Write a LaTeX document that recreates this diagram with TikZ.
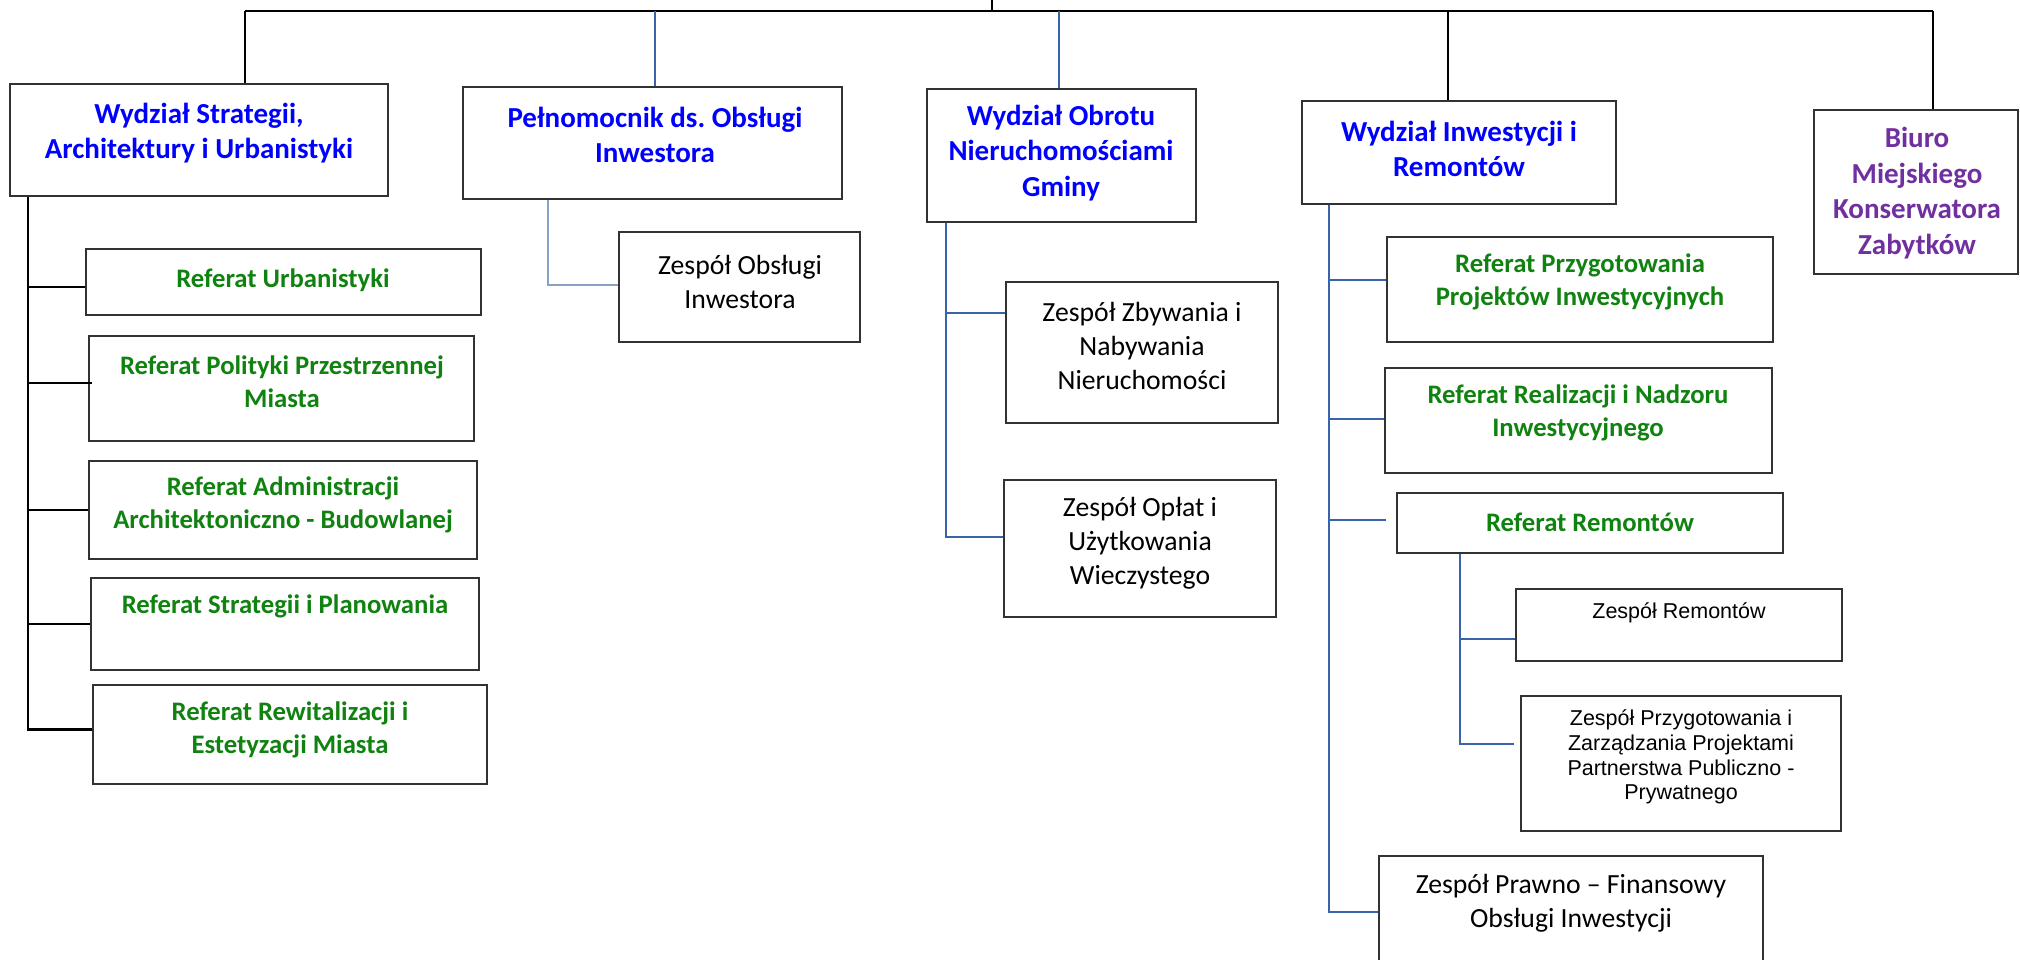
\documentclass[tikz,border=0pt]{standalone}
\usepackage{fontspec}
\setmainfont{Carlito}
\newfontfamily\arialf{Liberation Sans}
\frenchspacing
\definecolor{hblue}{RGB}{0,0,255}
\definecolor{hgreen}{RGB}{16,130,16}
\definecolor{hpurple}{RGB}{112,48,160}
\definecolor{cblue}{RGB}{58,100,170}
\definecolor{clight}{RGB}{135,162,200}
\definecolor{bgray}{RGB}{50,50,50}
\newcommand\mkbox[5]{\node[bx, minimum width={#4-#2}, minimum height={#5-#3}] (#1) at ({(#2+#4)/2},{(#3+#5)/2}) {};}
\begin{document}
\begin{tikzpicture}[x=1pt,y=-1pt,
  bx/.style={draw=bgray, line width=1.6pt, inner sep=0pt, rectangle},
  hdr/.style={align=center, inner sep=0pt, font=\fontsize{29}{35.5}\selectfont\bfseries},
  grn/.style={align=center, inner sep=0pt, text=hgreen, font=\fontsize{26.7}{33}\selectfont\bfseries},
  zsp/.style={align=center, inner sep=0pt, font=\fontsize{27.7}{34}\selectfont},
  ari/.style={align=center, inner sep=0pt, font=\arialf\fontsize{21.5}{24.8}\selectfont},
  blk/.style={draw=black, line width=2.2pt},
  blu/.style={draw=cblue, line width=2pt},
  lbl/.style={draw=clight, line width=1.6pt}]
\fill[white] (0,0) rectangle (2020,959);
\useasboundingbox (0,0) rectangle (2020,959);

% boxes
\mkbox{B1}{10}{84}{388}{196}
\mkbox{B2}{463}{87}{842}{199}
\mkbox{B3}{927}{89}{1196}{222}
\mkbox{B4}{1302}{101}{1616}{204}
\mkbox{B5}{1814}{110}{2018}{274}
\mkbox{R1}{86}{249}{481}{315}
\mkbox{R2}{89}{336}{474}{441}
\mkbox{R3}{89}{461}{477}{559}
\mkbox{R4}{91}{578}{479}{670}
\mkbox{R5}{93}{685}{487}{784}
\mkbox{Z1}{619}{232}{860}{342}
\mkbox{Z2}{1006}{282}{1278}{423}
\mkbox{Z3}{1004}{480}{1276}{617}
\mkbox{R6}{1387}{237}{1773}{342}
\mkbox{R7}{1385}{368}{1772}{473}
\mkbox{R8}{1397}{493}{1783}{553}
\mkbox{Z4}{1516}{589}{1842}{661}
\mkbox{Z5}{1521}{696}{1841}{831}
\mkbox{Z6}{1379}{856}{1763}{968}

% texts
\node[hdr, text=hblue] (tB1) at (199,133) {Wydział Strategii,\\Architektury i Urbanistyki};
\node[hdr, text=hblue] (tB2) at (655,135) {Pełnomocnik ds. Obsługi\\Inwestora};
\node[hdr, text=hblue] (tB3) at (1061,153) {Wydział Obrotu\\Nieruchomościami\\Gminy};
\node[hdr, text=hblue] (tB4) at (1459,149) {Wydział Inwestycji i\\Remontów};
\node[hdr, text=hpurple] (tB5) at (1917,193) {Biuro\\Miejskiego\\Konserwatora\\Zabytków};
\node[grn] (tR1) at (283,280) {Referat Urbanistyki};
\node[grn] (tR2) at (282,382) {Referat Polityki Przestrzennej\\Miasta};
\node[grn] (tR3) at (283,505) {Referat Administracji\\Architektoniczno - Budowlanej};
\node[grn] (tR4) at (285,606) {Referat Strategii i Planowania};
\node[grn] (tR5) at (290,730) {Referat Rewitalizacji i\\Estetyzacji Miasta};
\node[grn] (tR6) at (1580,282) {Referat Przygotowania\\Projektów Inwestycyjnych};
\node[grn] (tR7) at (1578,413) {Referat Realizacji i Nadzoru\\Inwestycyjnego};
\node[grn] (tR8) at (1590,522) {Referat Remontów};
\node[zsp] (tZ1) at (740,282) {Zespół Obsługi\\Inwestora};
\node[zsp] (tZ2) at (1142,346) {Zespół Zbywania i\\Nabywania\\Nieruchomości};
\node[zsp] (tZ3) at (1140,543) {Zespół Opłat i\\Użytkowania\\Wieczystego};
\node[ari] (tZ4) at (1679,613) {Zespół Remontów};
\node[ari] (tZ5) at (1681,757) {Zespół Przygotowania i\\Zarządzania Projektami\\Partnerstwa Publiczno -\\Prywatnego};
\node[zsp] (tZ6) at (1571,903) {Zespół Prawno – Finansowy\\Obsługi Inwestycji};

% top bus
\coordinate (root) at (992,0);
\coordinate (tL) at (245,11);
\coordinate (tR) at (1933,11);
\coordinate (tP) at (655,11);
\coordinate (tO) at (1059,11);
\coordinate (tI) at (1448,11);
\draw[blk, line width=2pt] (tL) -- (tR);
\draw[blk, line width=2pt] (root) -- (root |- tL);
\draw[blk] (tL) -- (tL |- B1.north);
\draw[blk] (tI) -- (tI |- B4.north);
\draw[blk] (tR) -- (tR |- B5.north);
\draw[blu] (tP) -- (tP |- B2.north);
\draw[blu] (tO) -- (tO |- B3.north);

% left column
\coordinate (Lx) at (28,0);
\coordinate (R5c) at ([yshift=5pt]R5.west);
\draw[blk] (Lx |- B1.south) -- (Lx |- R5c) -- (R5c);
\draw[blk] ([yshift=-5pt]Lx |- R1.west) -- ([yshift=-5pt]R1.west);
\draw[blk] ([yshift=5.5pt]Lx |- R2.west) -- ([xshift=4pt,yshift=5.5pt]R2.west);
\draw[blk] (Lx |- R3.west) -- (R3.west);
\draw[blk] (Lx |- R4.west) -- (R4.west);

% Pelnomocnik child
\coordinate (Px) at (548,0);
\draw[lbl] (Px |- B2.south) -- ([yshift=2pt]Px |- Z1.west) -- ([yshift=2pt]Z1.west);

% Obrot children
\coordinate (Ox) at (946,0);
\draw[blu] (Ox |- B3.south) -- ([yshift=12pt]Ox |- Z3.west) -- ([yshift=12pt]Z3.west);
\draw[blu] ([yshift=40pt]Ox |- Z2.west) -- ([yshift=40pt]Z2.west);

% Inwestycje children
\coordinate (Ix) at (1329,0);
\draw[blu] (Ix |- B4.south) -- (Ix |- Z6.west) -- (Z6.west);
\draw[blu] ([yshift=10pt]Ix |- R6.west) -- ([yshift=10pt]R6.west);
\draw[blu] ([yshift=1.5pt]Ix |- R7.west) -- ([yshift=1.5pt]R7.west);
\coordinate (R8c) at ([xshift=-10pt,yshift=3pt]R8.west);
\draw[blu] (Ix |- R8c) -- (R8c);

% Remonty children
\coordinate (Mx) at (1460,0);
\draw[blu] (Mx |- R8.south) -- ([yshift=19.5pt]Mx |- Z5.west) -- ([xshift=-6pt,yshift=19.5pt]Z5.west);
\draw[blu] ([yshift=-14pt]Mx |- Z4.west) -- ([yshift=-14pt]Z4.west);
\end{tikzpicture}
\end{document}
